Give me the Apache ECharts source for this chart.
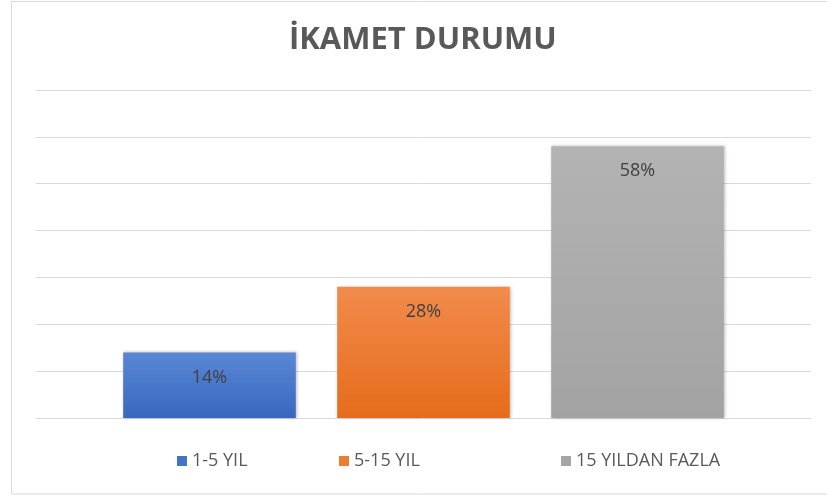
<!DOCTYPE html>
<html>
<head>
<meta charset="utf-8">
<style>
  html, body { margin: 0; padding: 0; background: #ffffff; }
  #chart { width: 827px; height: 497px; }
</style>
<script src="https://cdn.jsdelivr.net/npm/echarts@6/dist/echarts.min.js"></script>
</head>
<body>
<div id="chart"></div>
<script>
// Residence duration shares (percent)
const categories = ['İKAMET DURUMU'];
const seriesNames = ['1-5 YIL', '5-15 YIL', '15 YILDAN FAZLA'];
const seriesValues = [14, 28, 58];
const axisTicks = [0, 10, 20, 30, 40, 50, 60, 70];

const FONT = '"Open Sans", "Noto Sans", sans-serif';

const gradients = [
  ['#5b87d3', '#3767c0'],
  ['#f28b4c', '#e56c1b'],
  ['#b3b3b3', '#a3a3a3']
];
const legendColors = ['#4472c4', '#ed7d31', '#a5a5a5'];
const legendLeft = [172, 334, 556];

const chart = echarts.init(document.getElementById('chart'), null, { renderer: 'canvas' });

const series = seriesNames.map((name, i) => ({
  name: name,
  type: 'bar',
  data: [seriesValues[i]],
  barGap: '24%',
  barCategoryGap: '22.5%',
  itemStyle: {
    color: new echarts.graphic.LinearGradient(0, 0, 0, 1, [
      { offset: 0, color: gradients[i][0] },
      { offset: 1, color: gradients[i][1] }
    ]),
    shadowColor: 'rgba(0,0,0,0.25)',
    shadowBlur: 3,
    shadowOffsetX: 1,
    shadowOffsetY: 0
  },
  label: {
    show: true,
    position: 'insideTop',
    distance: 16,
    formatter: '{c}%',
    color: '#404040',
    fontFamily: FONT,
    fontSize: 18
  }
}));

const legends = seriesNames.map((name, i) => ({
  data: [{ name: name, itemStyle: { color: legendColors[i] } }],
  left: legendLeft[i],
  top: 447,
  icon: 'rect',
  itemWidth: 10,
  itemHeight: 10,
  itemGap: 4,
  textStyle: { color: '#595959', fontFamily: FONT, fontSize: 18, padding: [0, 0, 0, 0] }
}));

chart.setOption({
  animation: false,
  backgroundColor: '#ffffff',
  title: {
    text: 'İKAMET DURUMU',
    left: 284,
    top: 20,
    textStyle: { color: '#595959', fontFamily: FONT, fontSize: 31, fontWeight: 'bold' }
  },
  graphic: [{
    type: 'rect',
    shape: { x: 11.5, y: 1.5, width: 830, height: 492.5 },
    style: { fill: 'none', stroke: '#d9d9d9', lineWidth: 1 },
    silent: true
  }],
  legend: legends,
  grid: { left: 36, right: 16, top: 90, bottom: 79 },
  xAxis: {
    type: 'category',
    data: categories,
    axisLine: { show: false },
    axisTick: { show: false },
    axisLabel: { show: false }
  },
  yAxis: {
    type: 'value',
    min: axisTicks[0],
    max: axisTicks[axisTicks.length - 1],
    interval: axisTicks[1] - axisTicks[0],
    axisLabel: { show: false },
    axisLine: { show: false },
    axisTick: { show: false },
    splitLine: { lineStyle: { color: '#d9d9d9', width: 1 } }
  },
  series: series
});
</script>
</body>
</html>
